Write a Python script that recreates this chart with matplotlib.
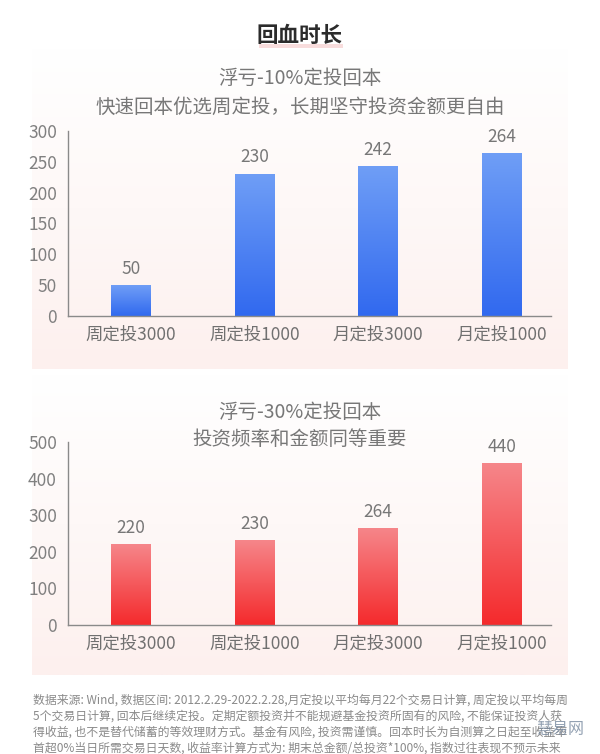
import matplotlib
matplotlib.use("Agg")
import matplotlib.pyplot as plt
import numpy as np
from matplotlib.colors import LinearSegmentedColormap
from matplotlib.patches import Rectangle
from matplotlib.ticker import FixedLocator

plt.rcParams['font.family'] = ['Noto Sans CJK SC', 'DejaVu Sans']

# data
categories = ['周定投3000', '周定投1000', '月定投3000', '月定投1000']
days_10 = [50, 230, 242, 264]
days_30 = [220, 230, 264, 440]
yticks_10 = [0, 50, 100, 150, 200, 250, 300]
yticks_30 = [0, 100, 200, 300, 400, 500]

main_title = '回血时长'
sub_10 = ['浮亏-10%定投回本', '快速回本优选周定投，长期坚守投资金额更自由']
sub_30 = ['浮亏-30%定投回本', '投资频率和金额同等重要']
footer = [
    '数据来源: Wind, 数据区间: 2012.2.29-2022.2.28,月定投以平均每月22个交易日计算, 周定投以平均每周',
    '5个交易日计算, 回本后继续定投。定期定额投资并不能规避基金投资所固有的风险, 不能保证投资人获',
    '得收益, 也不是替代储蓄的等效理财方式。基金有风险, 投资需谨慎。回本时长为自测算之日起至收益率',
    '首超0%当日所需交易日天数, 收益率计算方式为: 期末总金额/总投资*100%, 指数过往表现不预示未来',
]

W, H = 600, 754
fig = plt.figure(figsize=(W / 100, H / 100), dpi=100)
fig.patch.set_facecolor('white')


def fx(px):
    return px / W


def fy(py):
    return 1 - py / H


def panel_bg(top, bottom, left=32, right=568):
    bg = fig.add_axes([fx(left), fy(bottom), fx(right - left), (bottom - top) / H], zorder=0)
    cmap = LinearSegmentedColormap.from_list('bg', ['#ffffff', '#fef8f7', '#fdf0ee'])
    grad = np.linspace(0, 1, 256).reshape(-1, 1)
    bg.imshow(grad, aspect='auto', cmap=cmap, extent=[0, 1, 0, 1], origin='upper')
    bg.axis('off')


panel_bg(48, 369)
panel_bg(374, 675)

blue_cmap = LinearSegmentedColormap.from_list('blue', ['#3169ef', '#6f9ef6'])
red_cmap = LinearSegmentedColormap.from_list('red', ['#f42a2c', '#f6868a'])


def bar_chart(rect, values, ticks, cmap):
    ax = fig.add_axes(rect, zorder=2)
    ax.set_facecolor('none')
    x = np.arange(len(categories))
    bars = ax.bar(x, values, width=0.32, color='none', edgecolor='none')
    grad = np.linspace(0, 1, 256).reshape(-1, 1)
    for b, v in zip(bars, values):
        x0, y0 = b.get_x(), b.get_y()
        ax.imshow(grad, extent=[x0, x0 + b.get_width(), y0, y0 + b.get_height()],
                  aspect='auto', cmap=cmap, origin='lower', zorder=2)
        ax.annotate(str(v), (x0 + b.get_width() / 2, v), xytext=(0, 12), textcoords='offset points',
                    ha='center', va='center', fontsize=12.5, color='#777777')
    ax.set_xlim(-0.51, 3.40)
    ax.set_ylim(ticks[0], ticks[-1])
    ax.set_xticks(x)
    ax.set_xticklabels(categories)
    ax.set_yticks(ticks)
    ax.tick_params(axis='x', length=0, pad=7, labelsize=12.5, labelcolor='#707070')
    ax.tick_params(axis='y', length=0, pad=8, labelsize=12.5, labelcolor='#808080')
    ax.yaxis.set_minor_locator(FixedLocator([ticks[-1]]))
    ax.tick_params(axis='y', which='minor', direction='in', length=4, color='#8a8a8a')
    for s in ['top', 'right']:
        ax.spines[s].set_visible(False)
    for s in ['left', 'bottom']:
        ax.spines[s].set_color('#8a8a8a')
        ax.spines[s].set_linewidth(1)
    return ax


bar_chart([fx(68), fy(316), fx(551 - 68), (316 - 131) / H], days_10, yticks_10, blue_cmap)
bar_chart([fx(68), fy(625), fx(551 - 68), (625 - 442) / H], days_30, yticks_30, red_cmap)

# titles
fig.patches.append(Rectangle((fx(259), fy(48)), fx(84), 4 / H, transform=fig.transFigure,
                             facecolor='#f8dcdc', edgecolor='none', zorder=1))
fig.text(0.5, fy(35), main_title, ha='center', va='center', fontsize=15.5,
         fontweight='bold', color='#2b2b2b', zorder=3)
fig.text(0.5, fy(78), sub_10[0], ha='center', va='center', fontsize=14, color='#777777')
fig.text(0.5, fy(107), sub_10[1], ha='center', va='center', fontsize=14, color='#777777')
fig.text(0.5, fy(412), sub_30[0], ha='center', va='center', fontsize=14, color='#777777')
fig.text(0.5, fy(439), sub_30[1], ha='center', va='center', fontsize=14, color='#777777')

# footer
for i, line in enumerate(footer):
    fig.text(fx(33), fy(700 + 16 * i), line, ha='left', va='center', fontsize=8.55, color='#8a8a8a')

# watermark
fig.text(fx(561), fy(729), '慧易网', ha='center', va='center', fontsize=11.5,
         color='#6f8299', alpha=0.75, zorder=4)

fig.savefig('out.png', dpi=100, facecolor='white')
